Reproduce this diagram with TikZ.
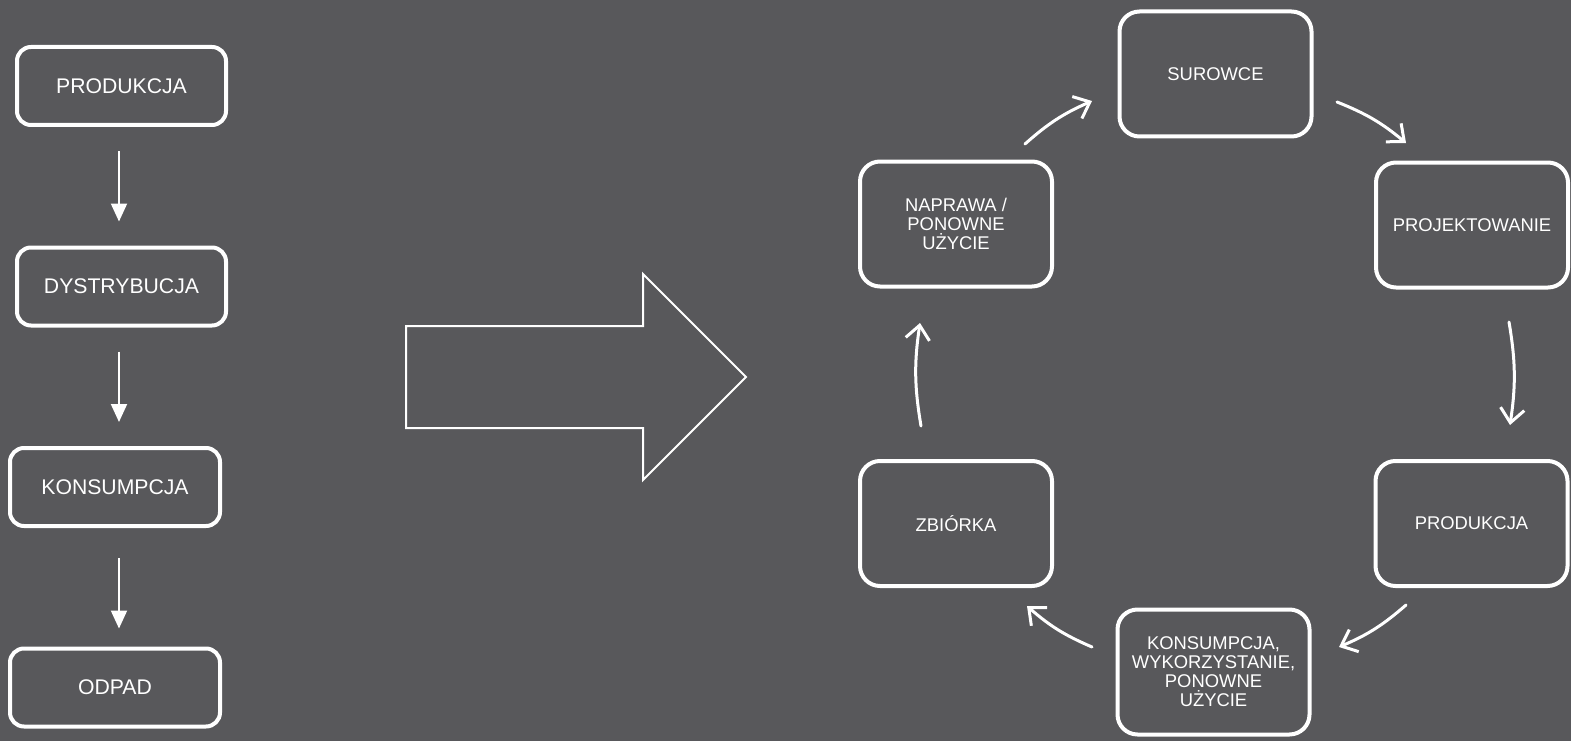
\documentclass[tikz,border=0pt]{standalone}
\usepackage{fontspec}
\setmainfont{Liberation Sans}
\usetikzlibrary{arrows.meta,calc}
\definecolor{bg}{RGB}{88,88,91}
\begin{document}
\begin{tikzpicture}[x=1pt,y=-1pt,
  lbox/.style={draw=white,line width=4pt,rounded corners=14pt,minimum width=209pt,minimum height=78pt,text=white,font=\fontsize{21.2}{25}\selectfont,inner sep=0pt},
  rbox/.style={draw=white,line width=4pt,rounded corners=20pt,minimum width=192pt,minimum height=125pt,text=white,font=\fontsize{18.4}{19}\selectfont,align=center,inner sep=0pt},
  larr/.style={draw=white,line width=2pt,-{Triangle[length=18pt,width=16pt]}},
  carr/.style={draw=white,line width=3pt,line cap=round,-{Straight Barb[length=14pt,width=24pt,line width=3pt]},bend left=9},
  bigarrow/.style={draw=white,line width=2pt}
]
\fill[bg] (0,0) rectangle (1571,741);
\useasboundingbox (0,0) rectangle (1571,741);

% left linear chain
\node[lbox] (p1) at (121.5,86) {PRODUKCJA};
\node[lbox] (d1) at (121.5,286.5) {DYSTRYBUCJA};
\node[lbox,minimum width=210pt] (k1) at (115,487) {KONSUMPCJA};
\node[lbox,minimum width=210pt] (o1) at (115,687.5) {ODPAD};

\draw[larr] ([shift={(-2.5,24)}]p1.south) -- ([shift={(-2.5,-24)}]d1.north);
\draw[larr] ([shift={(-2.5,24)}]d1.south) -- ([shift={(4,-24)}]k1.north);
\draw[larr] ([shift={(4,30)}]k1.south) -- ([shift={(4,-18)}]o1.north);

% big arrow
\draw[bigarrow] (406,326) -- (643,326) -- (643,274) -- (746,377) -- (643,480) -- (643,428) -- (406,428) -- cycle;

% circular chain
\node[rbox] (sur) at (1215.5,74) {SUROWCE};
\node[rbox] (proj) at (1472,225) {PROJEKTOWANIE};
\node[rbox] (prod) at (1471.5,523.5) {PRODUKCJA};
\node[rbox] (kons) at (1213.5,672) {KONSUMPCJA,\\WYKORZYSTANIE,\\PONOWNE\\UŻYCIE};
\node[rbox] (zb) at (956,523.5) {ZBIÓRKA};
\node[rbox] (nap) at (956,224) {NAPRAWA /\\PONOWNE\\UŻYCIE};

\draw[carr] ([shift={(69,-80)}]nap.center) to ([shift={(-123.5,27)}]sur.center);
\draw[carr] ([shift={(121.5,28)}]sur.center) to ([shift={(-66,-82)}]proj.center);
\draw[carr] ([shift={(37,97)}]proj.center) to ([shift={(38.5,-98.5)}]prod.center);
\draw[carr] ([shift={(-65.5,81.5)}]prod.center) to ([shift={(125.5,-25)}]kons.center);
\draw[carr] ([shift={(-121.5,-25)}]kons.center) to ([shift={(71,82.5)}]zb.center);
\draw[carr] ([shift={(-35,-97.5)}]zb.center) to ([shift={(-36,99)}]nap.center);
\end{tikzpicture}
\end{document}
